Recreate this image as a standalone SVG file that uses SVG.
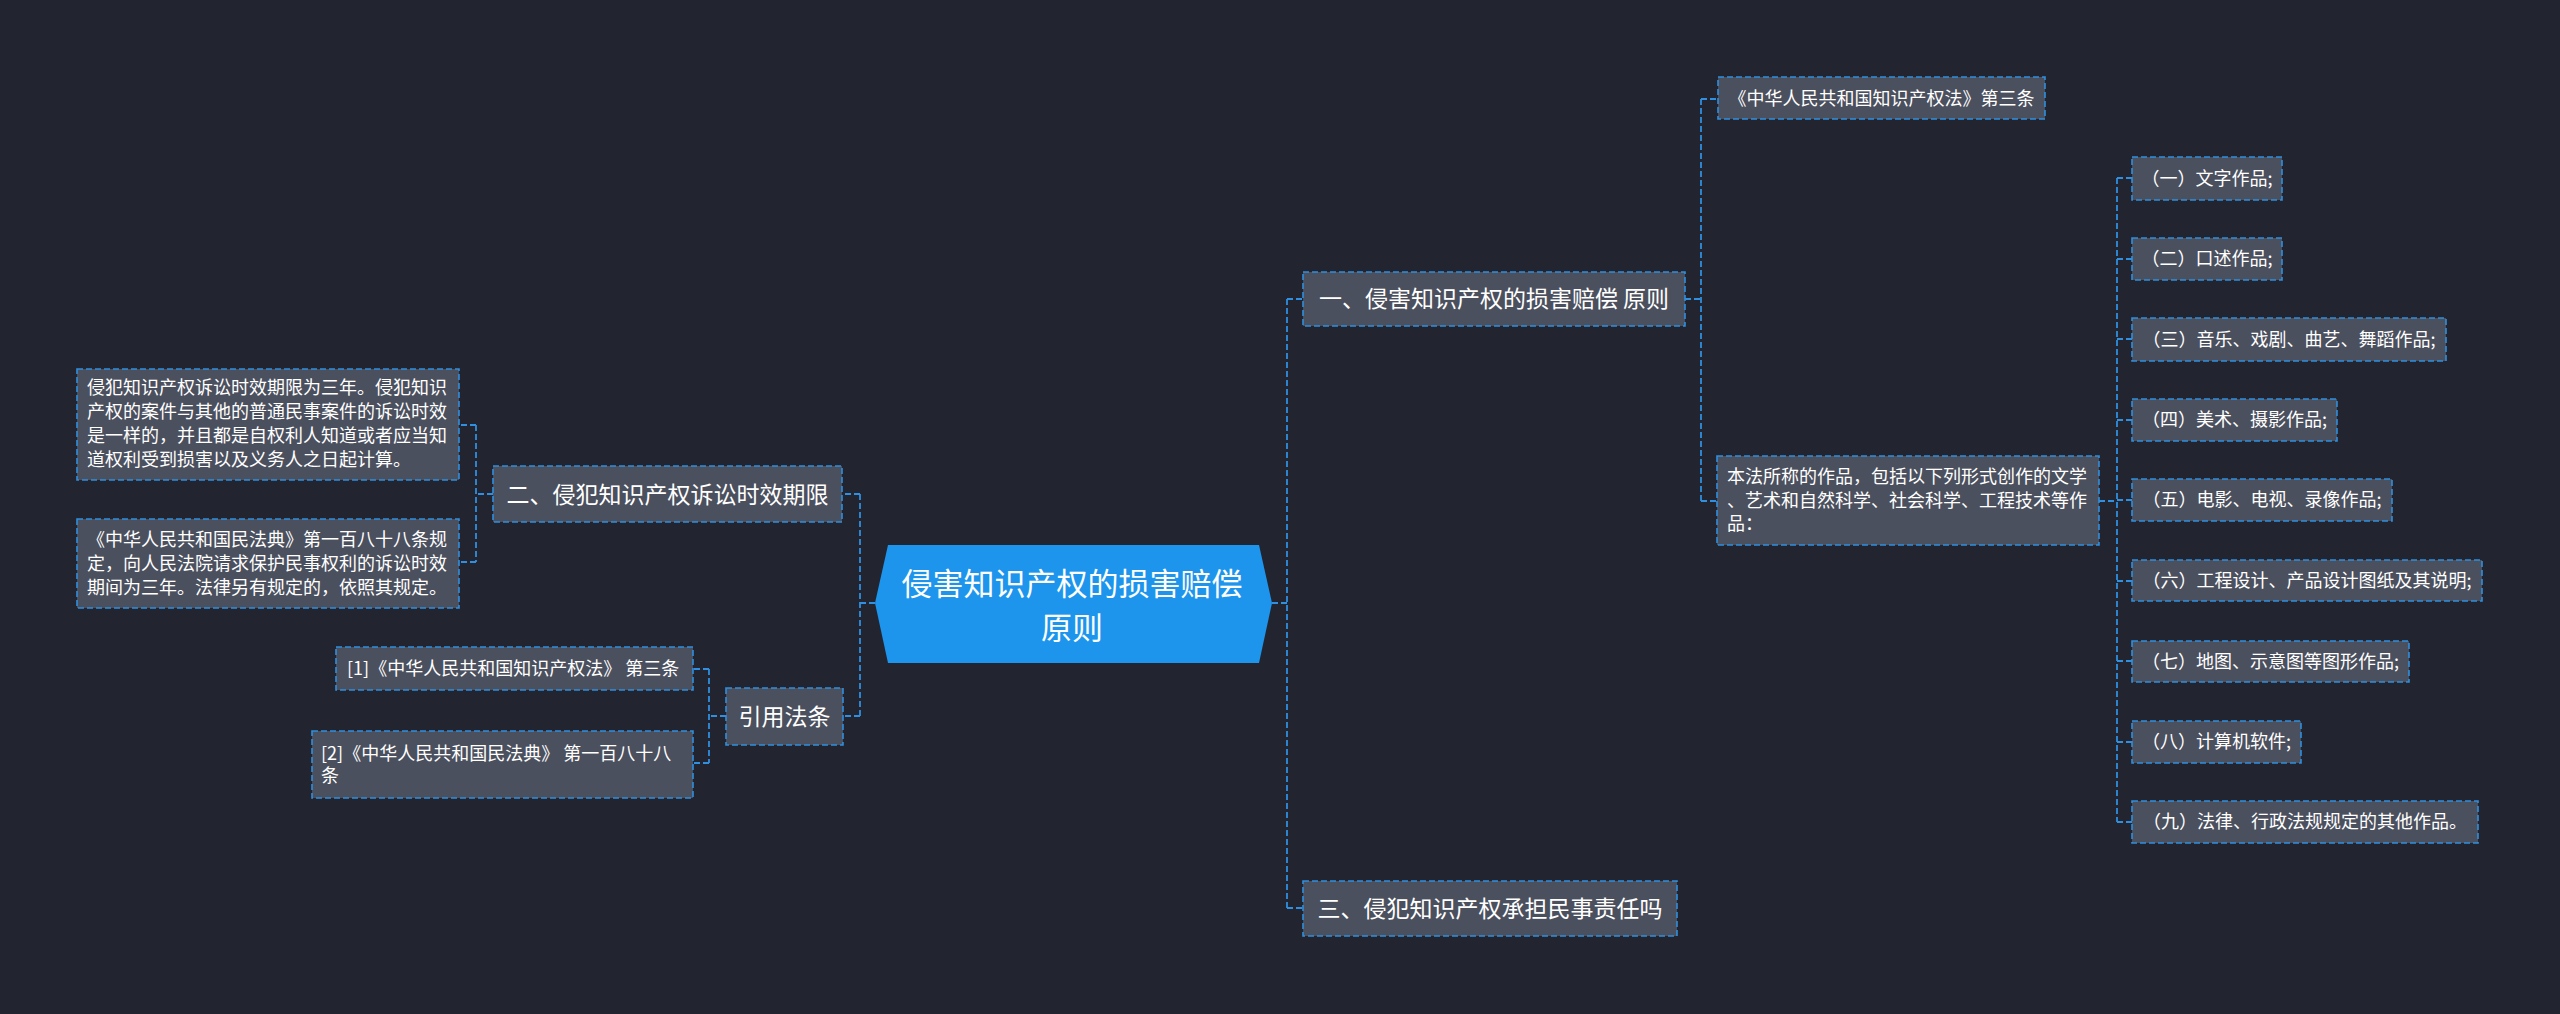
<svg xmlns="http://www.w3.org/2000/svg" width="2560" height="1014" viewBox="0 0 2560 1014">
<style>
.bg{fill:#22252f}
.box{fill:#4b505e;stroke:#2f8fe0;stroke-width:1.6;stroke-dasharray:6 3}
.conn{fill:none;stroke:#2f8fe0;stroke-width:1.8;stroke-dasharray:6 3}
text{font-family:"Microsoft YaHei","Noto Sans CJK SC","Noto Sans",sans-serif;fill:#ffffff}
.t23{font-size:23px}
.t18{font-size:18px}
.c{text-anchor:middle}
</style>
<rect class="bg" x="0" y="0" width="2560" height="1014"/>
<g id="connectors">
<path class="conn" d="M1272,603 H1287 M1287,299 V908 M1287,299 H1303 M1287,908 H1303"/>
<path class="conn" d="M1685,299 H1701 M1701,99 V501 M1701,99 H1718 M1701,501 H1717"/>
<path class="conn" d="M2099,501 H2117 M2117,178 V822 M2117,178 H2132 M2117,259 H2132 M2117,339 H2132 M2117,420 H2132 M2117,500 H2132 M2117,581 H2132 M2117,661 H2132 M2117,742 H2132 M2117,822 H2132"/>
<path class="conn" d="M875,603 H860 M860,494 V716 M860,494 H842 M860,716 H843"/>
<path class="conn" d="M493,494 H476 M476,425 V562 M476,425 H459 M476,562 H459"/>
<path class="conn" d="M726,716 H709 M709,669 V763 M709,669 H693 M709,763 H693"/>
</g>
<g id="center">
<polygon points="888,545 1259,545 1272,603 1259,663 888,663 875,603" fill="#1d95ec"/>
<text x="1072" y="595" class="c" font-size="31">侵害知识产权的损害赔偿</text>
<text x="1072" y="639" class="c" font-size="31">原则</text>
</g>
<g id="n1">
<rect class="box" x="1303" y="272" width="382" height="54"/>
<text x="1494" y="307" class="c t23">一、侵害知识产权的损害赔偿 原则</text>
</g>
<g id="n3">
<rect class="box" x="1303" y="881" width="374" height="55"/>
<text x="1490" y="917" class="c t23">三、侵犯知识产权承担民事责任吗</text>
</g>
<g id="n2">
<rect class="box" x="493" y="466" width="349" height="56"/>
<text x="667.5" y="503" class="c t23">二、侵犯知识产权诉讼时效期限</text>
</g>
<g id="nref">
<rect class="box" x="726" y="688" width="117" height="57"/>
<text x="784.5" y="725" class="c t23">引用法条</text>
</g>
<g id="n1a">
<rect class="box" x="1718" y="77" width="327" height="42"/>
<text x="1881.5" y="105" class="c t18">《中华人民共和国知识产权法》第三条</text>
</g>
<g id="n1b">
<rect class="box" x="1717" y="456" width="382" height="89"/>
<text x="1727" y="483" class="t18">本法所称的作品，包括以下列形式创作的文学</text>
<text x="1727" y="507" class="t18">、艺术和自然科学、社会科学、工程技术等作</text>
<text x="1727" y="530" class="t18">品：</text>
</g>
<g id="w1"><rect class="box" x="2132" y="157" width="150" height="43"/><text x="2207" y="185" class="c t18">（一）文字作品;</text></g>
<g id="w2"><rect class="box" x="2132" y="238" width="150" height="42"/><text x="2207" y="265" class="c t18">（二）口述作品;</text></g>
<g id="w3"><rect class="box" x="2132" y="318" width="314" height="43"/><text x="2289" y="346" class="c t18">（三）音乐、戏剧、曲艺、舞蹈作品;</text></g>
<g id="w4"><rect class="box" x="2132" y="399" width="205" height="42"/><text x="2234.5" y="426" class="c t18">（四）美术、摄影作品;</text></g>
<g id="w5"><rect class="box" x="2132" y="479" width="260" height="42"/><text x="2262" y="506" class="c t18">（五）电影、电视、录像作品;</text></g>
<g id="w6"><rect class="box" x="2132" y="560" width="350" height="41"/><text x="2307" y="587" class="c t18">（六）工程设计、产品设计图纸及其说明;</text></g>
<g id="w7"><rect class="box" x="2132" y="641" width="277" height="41"/><text x="2270.5" y="668" class="c t18">（七）地图、示意图等图形作品;</text></g>
<g id="w8"><rect class="box" x="2132" y="721" width="169" height="42"/><text x="2216.5" y="748" class="c t18">（八）计算机软件;</text></g>
<g id="w9"><rect class="box" x="2132" y="801" width="346" height="42"/><text x="2305" y="828" class="c t18">（九）法律、行政法规规定的其他作品。</text></g>
<g id="n2a">
<rect class="box" x="77" y="369" width="382" height="111"/>
<text x="87" y="394" class="t18">侵犯知识产权诉讼时效期限为三年。侵犯知识</text>
<text x="87" y="418" class="t18">产权的案件与其他的普通民事案件的诉讼时效</text>
<text x="87" y="442" class="t18">是一样的，并且都是自权利人知道或者应当知</text>
<text x="87" y="466" class="t18">道权利受到损害以及义务人之日起计算。</text>
</g>
<g id="n2b">
<rect class="box" x="77" y="519" width="382" height="89"/>
<text x="87" y="546" class="t18">《中华人民共和国民法典》第一百八十八条规</text>
<text x="87" y="570" class="t18">定，向人民法院请求保护民事权利的诉讼时效</text>
<text x="87" y="594" class="t18">期间为三年。法律另有规定的，依照其规定。</text>
</g>
<g id="r1">
<rect class="box" x="336" y="647" width="357" height="43"/>
<text x="347" y="675" class="t18">[1]《中华人民共和国知识产权法》 第三条</text>
</g>
<g id="r2">
<rect class="box" x="312" y="731" width="381" height="67"/>
<text x="321" y="760" class="t18">[2]《中华人民共和国民法典》 第一百八十八</text>
<text x="321" y="782" class="t18">条</text>
</g>
</svg>
